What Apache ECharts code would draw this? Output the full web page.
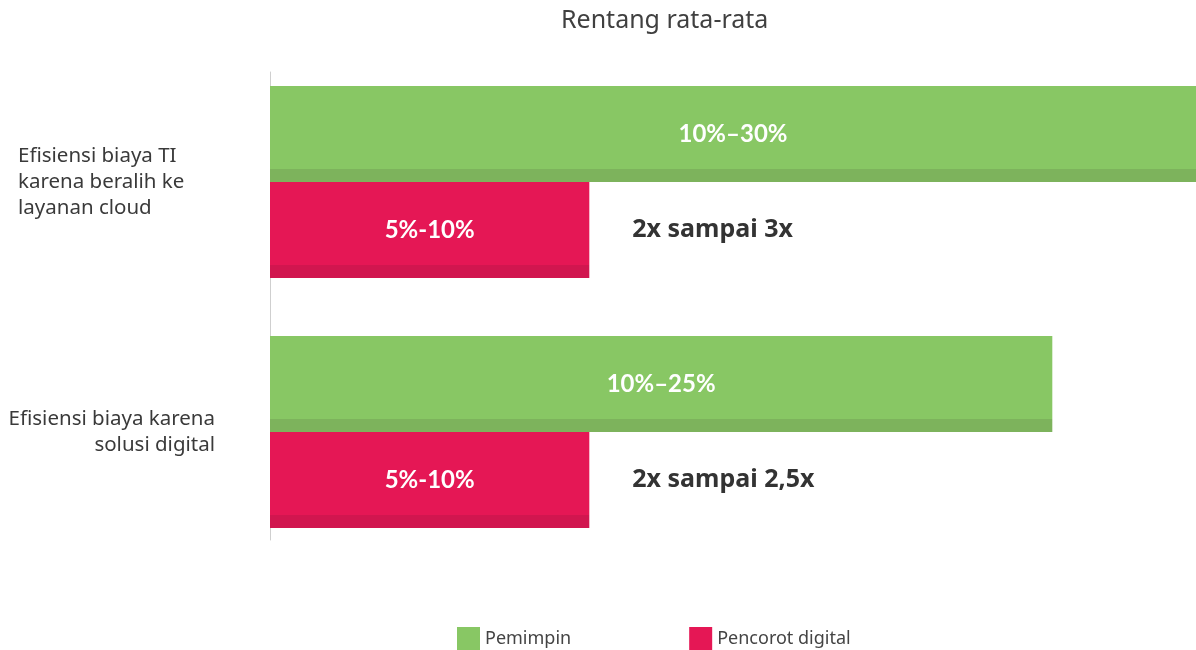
<!DOCTYPE html>
<html>
<head>
<meta charset="utf-8">
<script src="https://cdn.jsdelivr.net/npm/echarts@6/dist/echarts.min.js"></script>
<style>html,body{margin:0;padding:0;background:#fff}#c{width:1196px;height:650px}</style>
</head>
<body>
<div id="c"></div>
<script>
// ---- data ----
const titleText = 'Rentang rata-rata';
const categories = ['Efisiensi biaya TI\nkarena beralih ke\nlayanan cloud', 'Efisiensi biaya karena\nsolusi digital'];
const categoryAlign = ['l', 'r'];
const seriesNames = ['Pemimpin', 'Pencorot digital'];
const pemimpinValues = [29, 24.5];
const pemimpinLabels = ['10%\u201330%', '10%\u201325%'];
const pencorotValues = [10, 10];
const pencorotLabels = ['5%-10%', '5%-10%'];
const multiplierLabels = ['2x sampai 3x', '2x sampai 2,5x'];
const xMax = 29;

// ---- chart ----
const GRID_LEFT = 270, GRID_RIGHT = 0, W = 1196;
const gridWidth = W - GRID_LEFT - GRID_RIGHT;
const green = '#88C764', greenDark = '#7DB35C', red = '#E51755', redDark = '#D1164F';
function stripe(c1, c2) {
  return {type: 'linear', x: 0, y: 0, x2: 0, y2: 1, colorStops: [
    {offset: 0, color: c1}, {offset: 0.865, color: c1},
    {offset: 0.865, color: c2}, {offset: 1, color: c2}]};
}
const chart = echarts.init(document.getElementById('c'));
chart.setOption({
  animation: false,
  title: {text: titleText, left: 561, top: 8, padding: 0,
    textStyle: {fontFamily: 'Noto Sans', fontSize: 25, fontWeight: 'normal', color: '#404040'}},
  legend: {
    left: 457, top: 627, padding: 0, icon: 'rect', itemWidth: 23, itemHeight: 23, itemGap: 118, itemStyle: {borderWidth: 0},
    data: [{name: seriesNames[0], itemStyle: {color: green}}, {name: seriesNames[1], itemStyle: {color: red}}],
    textStyle: {fontFamily: 'Noto Sans', fontSize: 18, color: '#444'}
  },
  grid: [
    {left: GRID_LEFT, right: GRID_RIGHT, top: 57, bottom: 93},
    {left: GRID_LEFT, right: GRID_RIGHT, top: 72, bottom: 110}
  ],
  xAxis: [
    {type: 'value', min: 0, max: xMax, show: false, gridIndex: 0},
    {type: 'value', min: 0, max: xMax, show: false, gridIndex: 1}
  ],
  yAxis: [
    {type: 'category', data: categories, inverse: true, gridIndex: 0,
      axisLine: {show: false}, axisTick: {show: false},
      axisLabel: {
        margin: 55, align: 'right',
        formatter: function (v, i) {
          const k = categoryAlign[i];
          return v.split('\n').map(s => '{' + k + '|' + s + '}').join('\n');
        },
        rich: {
          l: {width: 197, align: 'left', fontFamily: 'Noto Sans', fontSize: 20.5, lineHeight: 26, color: '#3a3a3a'},
          r: {align: 'right', fontFamily: 'Noto Sans', fontSize: 20.5, lineHeight: 26, color: '#3a3a3a'}
        }
      }},
    {type: 'category', data: categories, gridIndex: 1,
      axisLine: {show: true, lineStyle: {color: '#cfcfcf', width: 1}},
      axisTick: {show: false}, axisLabel: {show: false}}
  ],
  series: [
    {name: seriesNames[0], type: 'bar', xAxisIndex: 0, yAxisIndex: 0,
      data: pemimpinValues, barWidth: 96, barGap: 0,
      itemStyle: {color: stripe(green, greenDark)},
      label: {show: true, position: 'inside', formatter: p => pemimpinLabels[p.dataIndex],
        fontFamily: 'Lato', fontWeight: 'bold', fontSize: 24, color: '#fff'}},
    {name: seriesNames[1], type: 'bar', xAxisIndex: 0, yAxisIndex: 0,
      data: pencorotValues, barWidth: 96, barGap: 0,
      itemStyle: {color: stripe(red, redDark)},
      label: {show: true, position: 'insideLeft', distance: 0,
        formatter: p => '{p|' + pencorotLabels[p.dataIndex] + '}{m|' + multiplierLabels[p.dataIndex] + '}',
        rich: {
          p: {width: pencorotValues[0] / xMax * gridWidth, align: 'center',
            fontFamily: 'Lato', fontWeight: 'bold', fontSize: 24, color: '#fff'},
          m: {padding: [0, 0, 0, 43], fontFamily: 'Noto Sans', fontWeight: 'bold', fontSize: 25, color: '#333'}
        }}}
  ]
});
</script>
</body>
</html>
